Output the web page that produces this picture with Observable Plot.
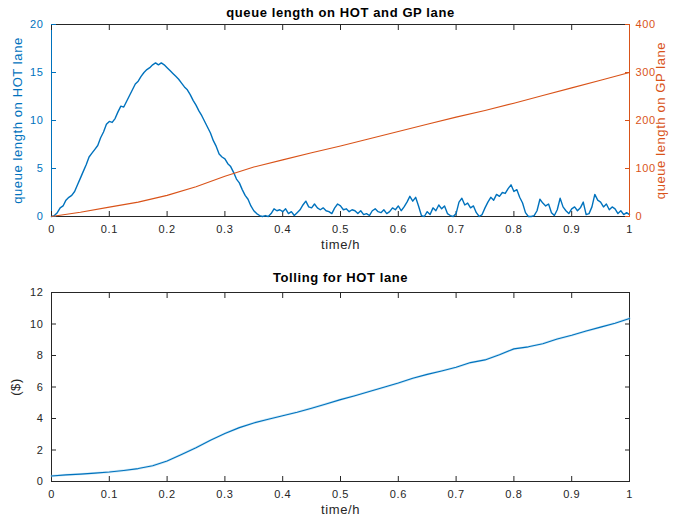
<!DOCTYPE html>
<html><head><meta charset="utf-8">
<script src="https://cdn.jsdelivr.net/npm/d3@7"></script>
<script src="https://cdn.jsdelivr.net/npm/@observablehq/plot@0.6"></script>
<style>
body{margin:0;background:#fff;}
#chart{position:relative;width:676px;height:523px;background:#fff;}
#chart svg{position:absolute;left:0;}
</style></head><body><div id="chart"></div>
<script>
// ---- data ----
const xTicks = [0, 0.1, 0.2, 0.3, 0.4, 0.5, 0.6, 0.7, 0.8, 0.9, 1];
const hotTicks = [0, 5, 10, 15, 20];
const gpTicks = [0, 100, 200, 300, 400];
const tollTicks = [0, 2, 4, 6, 8, 10, 12];

const topTitle = "queue length on HOT and GP lane";
const bottomTitle = "Tolling for HOT lane";
const xLabel = "time/h";
const hotLabel = "queue length on HOT lane";
const gpLabel = "queue length on GP lane";
const tollLabel = "($)";

// HOT lane queue, sampled every 0.005 h
const hotQueue = [
 0,0.1,0.4,0.9,1.1,1.7,2.0,2.2,2.6,3.3,
 4.0,4.7,5.4,6.2,6.6,7.0,7.4,8.2,8.8,9.6,
 9.9,9.8,10.2,10.9,11.5,11.4,12.0,12.6,13.2,13.8,
 14.1,14.6,15.0,15.3,15.5,15.8,16.0,15.8,16.0,15.8,
 15.5,15.2,14.9,14.6,14.3,13.9,13.5,13.2,12.7,12.1,
 11.6,11.0,10.5,9.9,9.3,8.7,7.9,7.3,6.5,6.2,
 6.0,5.5,5.2,4.6,3.9,3.5,2.8,2.2,1.8,1.1,
 0.6,0.3,0.1,0.0,0.1,0.0,0.3,0.8,0.6,0.7,
 0.5,0.8,0.3,0.5,0.1,0.4,0.7,1.2,1.6,1.0,
 0.9,1.3,0.9,0.7,0.9,0.6,0.5,0.3,0.9,1.3,
 1.1,0.7,0.8,0.5,0.7,0.6,0.3,0.6,0.2,0.3,
 0.1,0.6,0.8,0.5,0.4,0.7,0.3,0.5,0.9,0.7,
 1.1,0.6,1.0,1.5,2.1,1.6,2.0,1.1,0.1,0.0,
 0.5,0.2,0.9,0.6,1.2,0.8,1.1,0.3,0.1,0.0,
 0.3,1.5,1.9,1.2,1.4,0.9,1.1,0.4,0.0,0.2,
 0.9,1.5,2.0,1.7,2.3,2.1,2.5,2.4,2.9,3.3,
 2.6,2.8,2.0,1.4,0.4,0.0,0.0,0.1,0.6,1.8,
 1.4,1.1,1.3,0.4,0.1,0.7,1.9,1.0,0.6,0.3,
 0.8,1.0,0.6,0.9,1.5,0.2,0.3,1.0,2.3,1.7,
 1.5,1.0,1.3,0.7,1.0,0.8,0.3,0.6,0.2,0.4,
 0.2
];
// GP lane queue, sampled every 0.05 h
const gpQueue = [0,9,19.5,30,44,62,84,103,118,133,147,162,177,192,207,221,236,252,268,284,300];
// toll ($), sampled every 0.025 h
const toll = [
 0.35,0.42,0.47,0.53,0.60,0.70,0.82,1.00,1.30,1.72,
 2.15,2.62,3.05,3.42,3.72,3.95,4.18,4.40,4.65,4.92,
 5.20,5.45,5.72,5.98,6.25,6.55,6.80,7.02,7.25,7.55,
 7.72,8.05,8.42,8.55,8.75,9.05,9.28,9.55,9.80,10.05,
 10.35
];

const hotData = hotQueue.map((v, i) => ({t: i / 200, v}));
const gpData = gpQueue.map((v, i) => ({t: i / 20, v}));
const tollData = toll.map((v, i) => ({t: i / 40, v}));

// ---- styling ----
const BLUE = "#0072BD", ORANGE = "#D95319", GRAY = "#262626";
const FONT = "'Liberation Sans', Arial, Helvetica, sans-serif";
const fmt = d3.format("");
const baseStyle = {fontFamily: FONT, fontSize: "11px", letterSpacing: "0.6px", background: "none", overflow: "visible"};
const W = 676, ML = 51, MR = 47;
const mid = {textAnchor: "middle", lineAnchor: "middle"};

function place(svg, top) { svg.style.top = top + "px"; document.getElementById("chart").appendChild(svg); }

// Top panel: HOT lane (left axis)
const top1 = Plot.plot({
  width: W, height: 260, marginLeft: ML, marginRight: MR, marginTop: 24, marginBottom: 44,
  style: baseStyle,
  x: {domain: [0, 1]}, y: {domain: [0, 20]},
  marks: [
    Plot.frame({anchor: "top", stroke: GRAY}),
    Plot.frame({anchor: "bottom", stroke: GRAY}),
    Plot.frame({anchor: "left", stroke: BLUE}),
    Plot.axisX({anchor: "bottom", ticks: xTicks, tickFormat: fmt, tickSize: -5, tickPadding: 14, stroke: GRAY, fill: GRAY, fontSize: 11, label: null}),
    Plot.axisX({anchor: "top", ticks: xTicks, tickSize: -5, stroke: GRAY, fill: "none", label: null}),
    Plot.axisY({anchor: "left", ticks: hotTicks, tickFormat: fmt, tickSize: -5, tickPadding: 13, stroke: BLUE, fill: BLUE, fontSize: 11, label: null}),
    Plot.line(hotData, {x: "t", y: "v", stroke: BLUE, strokeWidth: 1.4}),
    Plot.text([topTitle], {...mid, text: d => d, frameAnchor: "top", dy: -12, fontWeight: "bold", fontSize: 13, fill: "#000", letterSpacing: "0.8px"}),
    Plot.text([xLabel], {...mid, text: d => d, frameAnchor: "bottom", dy: 28, fontSize: 13, fill: GRAY}),
    Plot.text([hotLabel], {...mid, text: d => d, frameAnchor: "left", dx: -34, rotate: -90, fontSize: 13, fill: BLUE, letterSpacing: "0.8px"})
  ]
});
place(top1, 0);

// Top panel overlay: GP lane (right axis)
const top2 = Plot.plot({
  width: W, height: 260, marginLeft: ML, marginRight: MR, marginTop: 24, marginBottom: 44,
  style: baseStyle,
  x: {domain: [0, 1], axis: null}, y: {domain: [0, 400], axis: null},
  marks: [
    Plot.frame({anchor: "right", stroke: ORANGE}),
    Plot.axisY({anchor: "right", ticks: gpTicks, tickFormat: fmt, tickSize: -5, tickPadding: 11, stroke: ORANGE, fill: ORANGE, fontSize: 11, label: null}),
    Plot.line(gpData, {x: "t", y: "v", stroke: ORANGE, strokeWidth: 1.1}),
    Plot.text([gpLabel], {...mid, text: d => d, frameAnchor: "right", dx: 31, rotate: -90, fontSize: 13, fill: ORANGE, letterSpacing: "0.8px"})
  ]
});
place(top2, 0);

// Bottom panel: toll
const bottom = Plot.plot({
  width: W, height: 263, marginLeft: ML, marginRight: MR, marginTop: 32, marginBottom: 42,
  style: baseStyle,
  x: {domain: [0, 1]}, y: {domain: [0, 12]},
  marks: [
    Plot.frame({stroke: GRAY}),
    Plot.axisX({anchor: "bottom", ticks: xTicks, tickFormat: fmt, tickSize: -5, tickPadding: 14, stroke: GRAY, fill: GRAY, fontSize: 11, label: null}),
    Plot.axisX({anchor: "top", ticks: xTicks, tickSize: -5, stroke: GRAY, fill: "none", label: null}),
    Plot.axisY({anchor: "left", ticks: tollTicks, tickFormat: fmt, tickSize: -5, tickPadding: 13, stroke: GRAY, fill: GRAY, fontSize: 11, label: null}),
    Plot.axisY({anchor: "right", ticks: tollTicks, tickSize: -5, stroke: GRAY, fill: "none", label: null}),
    Plot.line(tollData, {x: "t", y: "v", stroke: "#9fd3f0", strokeWidth: 2.4, strokeOpacity: 0.5}),
    Plot.line(tollData, {x: "t", y: "v", stroke: BLUE, strokeWidth: 1.1}),
    Plot.text([bottomTitle], {...mid, text: d => d, frameAnchor: "top", dy: -15, fontWeight: "bold", fontSize: 13, fill: "#000", letterSpacing: "0.8px"}),
    Plot.text([xLabel], {...mid, text: d => d, frameAnchor: "bottom", dy: 28, fontSize: 13, fill: GRAY}),
    Plot.text([tollLabel], {...mid, text: d => d, frameAnchor: "left", dx: -36, rotate: -90, fontSize: 13, fill: GRAY})
  ]
});
place(bottom, 260);
</script>
</body></html>
